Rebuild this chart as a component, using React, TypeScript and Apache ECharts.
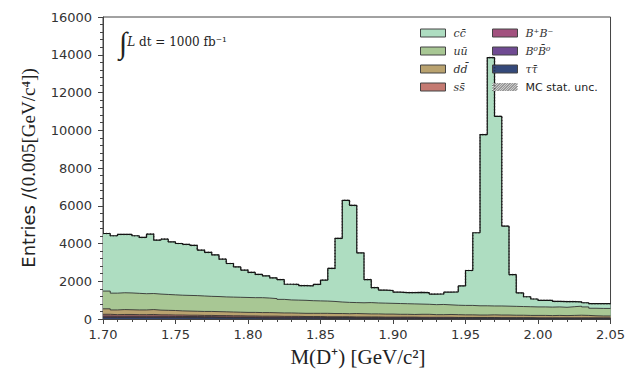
import React, { useEffect, useRef } from "react";
import * as echarts from "echarts";

// Histogram binning (GeV/c^2)
const binStart = 1.7;
const binWidth = 0.005;
const xMin = 1.7;
const xMax = 2.05;

// Per-component entries per bin (70 bins, 1.700 -> 2.050), stacked bottom -> top
const tautau = [70,70,70,70,70,70,70,65,65,65, 65,60,60,55,60,55,55,50,50,50, 50,40,40,40,40,40,40,40,40,40, 30,30,35,35,30,30,30,30,30,30, 30,30,30,25,25,25,25,25,20,20, 20,20,20,20,20,20,20,20,20,15, 15,15,15,15,15,15,15,15,15,15];
const b0b0 = [40,35,35,40,35,35,35,35,35,30, 30,30,30,30,30,25,25,25,25,25, 25,25,25,25,20,20,20,20,20,20, 20,20,20,20,20,20,20,20,15,15, 15,15,15,15,15,15,15,15,15,15, 15,15,15,15,10,10,10,10,10,10, 10,10,10,10,10,10,10,10,10,10];
const bpbm = [50,45,50,45,45,45,50,45,45,40, 40,40,40,40,35,35,35,35,35,30, 30,30,30,30,30,30,30,25,25,25, 25,25,25,25,20,20,20,20,20,20, 20,20,20,20,20,20,20,20,15,15, 15,15,15,15,15,15,15,15,15,15, 15,15,15,15,15,15,15,15,15,15];
const ssbar = [90,80,85,85,80,80,85,75,75,75, 75,70,70,65,65,65,65,60,60,55, 55,55,55,55,50,50,50,45,45,45, 45,45,40,40,40,40,40,40,35,35, 35,35,35,30,30,30,30,30,30,30, 30,30,30,30,25,25,25,25,25,20, 20,20,20,20,20,20,20,20,20,20];
const ddbar = [290,250,260,250,250,250,260,250,240,240, 220,220,210,210,210,210,200,200,190,190, 190,190,190,180,180,180,170,170,170,170, 180,170,170,160,180,170,160,160,160,160, 150,150,140,160,160,140,140,150,150,140, 140,130,130,140,140,140,130,130,120,130, 130,120,130,120,130,140,130,110,100,100];
const uubar = [940,890,890,890,880,860,850,850,840,830, 830,830,830,820,800,800,790,790,790,790, 780,790,770,750,720,690,690,690,670,660, 650,640,610,600,580,580,600,580,580,570, 570,560,560,540,530,530,540,510,500,500, 500,490,490,470,480,470,470,460,460,450, 450,450,450,440,460,480,450,400,400,400];
const ccbar = [3050,3040,3090,3100,3050,2980,3150,2860,2930,2810, 2740,2700,2660,2430,2330,2210,2000,1780,1610,1450, 1340,1230,1180,1100,1050,830,830,780,790,870, 1110,1750,3370,5410,5150,2640,1220,810,690,680, 600,590,600,620,620,560,560,670,710,1030, 1850,3870,9070,13160,10050,4240,1680,720,530,420, 350,360,290,300,270,230,220,240,250,250];

const yTicks = { min: 0, max: 16000, interval: 2000 };

// stacking order: bottom -> top
const components = [
  { name: "ττ\u0304", values: tautau, color: "#34497a" },
  { name: "B\u2070B\u0304\u2070", values: b0b0, color: "#6f4a92" },
  { name: "B\u207AB\u207B", values: bpbm, color: "#a2527f" },
  { name: "ss\u0304", values: ssbar, color: "#c47a72" },
  { name: "dd\u0304", values: ddbar, color: "#b9a26f" },
  { name: "uu\u0304", values: uubar, color: "#a8c794" },
  { name: "cc\u0304", values: ccbar, color: "#aeddc1" },
];
const uncName = "MC stat. unc.";

function stepData(vals: number[]) {
  const pts: number[][] = vals.map((v, i) => [Number((binStart + binWidth * i).toFixed(3)), v]);
  pts.push([Number((binStart + binWidth * vals.length).toFixed(3)), vals[vals.length - 1]]);
  return pts;
}

function hatchIcon(): string {
  const c = document.createElement("canvas");
  c.width = 25;
  c.height = 8;
  const ctx = c.getContext("2d");
  if (!ctx) return "";
  ctx.fillStyle = "#ffffff";
  ctx.fillRect(0, 0, 25, 8);
  ctx.strokeStyle = "#333";
  ctx.lineWidth = 1;
  for (let x = -10; x < 35; x += 2.5) {
    ctx.beginPath();
    ctx.moveTo(x, 8);
    ctx.lineTo(x + 8, 0);
    ctx.stroke();
  }
  return c.toDataURL();
}

export default function App() {
  const ref = useRef<HTMLDivElement>(null);
  useEffect(() => {
    if (!ref.current) return;
    const chart = echarts.init(ref.current, null, { renderer: "svg" });
    const serif = "Liberation Serif";
    const mathSerif = "DejaVu Serif";
    const sans = "DejaVu Sans";

    // cumulative tops of the stack (bottom -> top)
    const cumul: number[][] = [];
    components.forEach((c, k) => {
      cumul.push(c.values.map((v, i) => v + (k > 0 ? cumul[k - 1][i] : 0)));
    });
    const total = cumul[cumul.length - 1];

    const series: any[] = components.map((c, k) => ({
      name: c.name,
      type: "line",
      step: "end",
      data: stepData(cumul[k]),
      symbol: "none",
      showSymbol: false,
      color: c.color,
      lineStyle: {
        color: k === components.length - 1 ? "#111" : "#333",
        width: k === components.length - 1 ? 1.2 : 0.9,
      },
      areaStyle: { color: c.color, opacity: 1, origin: "start" },
    }));
    // draw top layers first so that lower layers overlay them
    series.reverse();
    series.forEach((s, i) => (s.z = 2 + i));
    series.push({
      name: uncName,
      type: "line",
      step: "end",
      data: stepData(total),
      symbol: "none",
      showSymbol: false,
      color: "#222",
      lineStyle: { color: "#222", width: 1.6, type: [1, 2], opacity: 0.7 },
      z: 20,
    });

    const mathLabel = (name: string) => (name === uncName ? `{s|${name}}` : `{m|${name}}`);
    const legendBase = {
      orient: "vertical",
      top: 27,
      padding: 0,
      itemWidth: 25,
      itemHeight: 8,
      itemGap: 6,
      icon: "rect",
      selectedMode: false,
      formatter: mathLabel,
      textStyle: {
        padding: [0, 0, 0, 3],
        lineHeight: 12,
        rich: {
          m: { fontFamily: mathSerif, fontStyle: "italic", fontSize: 11, color: "#333", lineHeight: 12 },
          s: { fontFamily: sans, fontSize: 11, color: "#222", lineHeight: 12 },
        },
      },
    };
    const legItem = (name: string) => {
      const c = components.find((x) => x.name === name)!;
      return { name, itemStyle: { color: c.color, borderColor: "#444", borderWidth: 1 } };
    };

    chart.setOption({
      animation: false,
      backgroundColor: "#ffffff",
      grid: { left: 103, top: 17, right: 15, bottom: 51, show: true, borderColor: "#444", borderWidth: 1 },
      xAxis: {
        type: "value",
        min: xMin,
        max: xMax,
        interval: 0.05,
        axisLine: { show: true, onZero: false, lineStyle: { color: "#444", width: 1 } },
        axisTick: { show: true, inside: false, length: 5, lineStyle: { color: "#444" } },
        minorTick: { show: true, splitNumber: 5, length: 3, lineStyle: { color: "#444" } },
        splitLine: { show: false },
        axisLabel: { formatter: (v: number) => v.toFixed(2), fontFamily: sans, fontSize: 13, color: "#333", margin: 9 },
      },
      yAxis: {
        type: "value",
        min: yTicks.min,
        max: yTicks.max,
        interval: yTicks.interval,
        axisLine: { show: true, lineStyle: { color: "#444", width: 1 } },
        axisTick: { show: true, inside: false, length: 5, lineStyle: { color: "#444" } },
        minorTick: { show: true, splitNumber: 5, length: 3, lineStyle: { color: "#444" } },
        splitLine: { show: false },
        axisLabel: { formatter: (v: number) => String(v), fontFamily: sans, fontSize: 13, color: "#333", margin: 11 },
      },
      legend: [
        { ...legendBase, left: 420, data: [legItem("cc\u0304"), legItem("uu\u0304"), legItem("dd\u0304"), legItem("ss\u0304")] },
        {
          ...legendBase,
          left: 492,
          data: [
            legItem("B\u207AB\u207B"),
            legItem("B\u2070B\u0304\u2070"),
            legItem("ττ\u0304"),
            { name: uncName, icon: "image://" + hatchIcon() },
          ],
        },
      ],
      graphic: [
        {
          type: "text",
          x: 28,
          y: 168,
          rotation: Math.PI / 2,
          style: {
            text: "{s|Entries /(}{m|0.005[GeV/c⁴])}",
            align: "center",
            verticalAlign: "middle",
            rich: {
              s: { fontFamily: sans, fontSize: 18, fill: "#222" },
              m: { fontFamily: serif, fontSize: 19, fill: "#222" },
            },
          },
        },
        {
          type: "text",
          x: 358,
          y: 357,
          style: {
            text: "M(D⁺) [GeV/c²]",
            fontFamily: serif,
            fontSize: 21,
            fill: "#222",
            align: "center",
            verticalAlign: "middle",
          },
        },
        {
          type: "text",
          x: 119,
          y: 42,
          style: {
            text: "{i|∫}{l|L}{n| dt = 1000 fb⁻¹}",
            verticalAlign: "middle",
            rich: {
              i: { fontFamily: serif, fontSize: 30, fill: "#222" },
              l: { fontFamily: mathSerif, fontStyle: "italic", fontSize: 12, fill: "#222" },
              n: { fontFamily: mathSerif, fontSize: 12, fill: "#222" },
            },
          },
        },
      ],
      series,
    });
    return () => chart.dispose();
  }, []);
  return <div ref={ref} style={{ width: 628, height: 370, position: "absolute", left: 0, top: 0 }} />;
}
